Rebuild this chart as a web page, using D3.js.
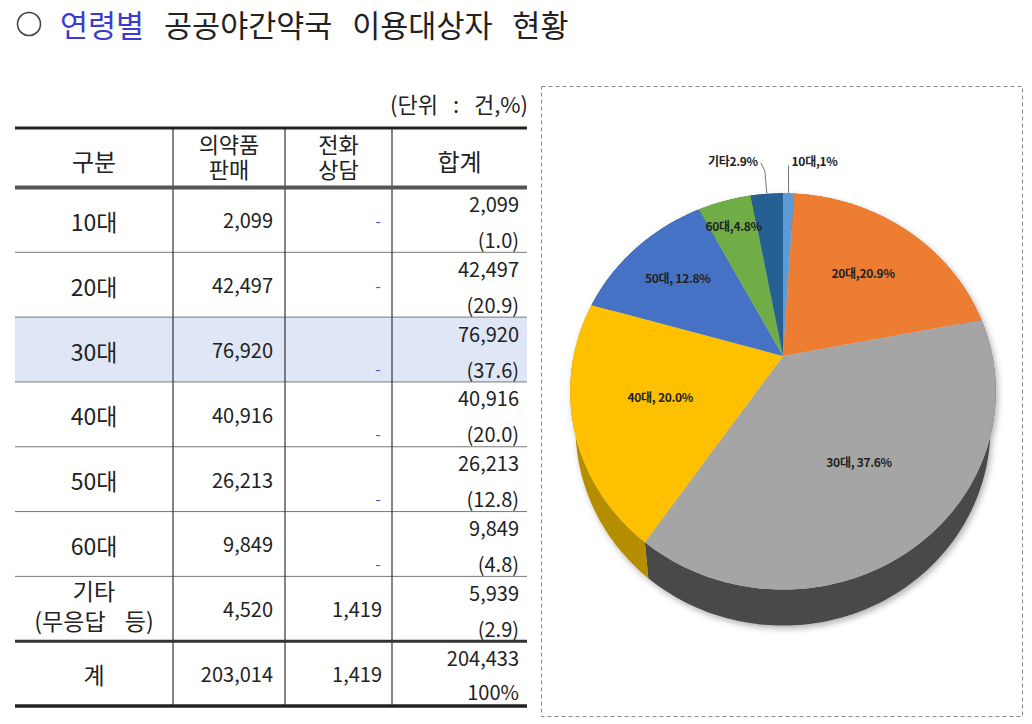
<!DOCTYPE html>
<html>
<head>
<meta charset="utf-8">
<script src="https://cdn.jsdelivr.net/npm/d3@7/dist/d3.min.js"></script>
<style>
  body { margin: 0; background: #fff; }
  svg text { font-family: "Noto Sans CJK KR", "Noto Sans", sans-serif; fill: #222; }
</style>
</head>
<body>
<div id="vis"></div>
<script>
// data
const groups = ['10대', '20대', '30대', '40대', '50대', '60대', '기타'];
const medicineSales = [2099, 42497, 76920, 40916, 26213, 9849, 4520];
const phoneConsult = [null, null, null, null, null, null, 1419];
const totals = [2099, 42497, 76920, 40916, 26213, 9849, 5939];
const shares = [1.0, 20.9, 37.6, 20.0, 12.8, 4.8, 2.9];
const totalRow = { label: '계', sales: 203014, phone: 1419, total: 204433, share: '100%' };
const pieLabels = ['10대,1%', '20대,20.9%', '30대, 37.6%', '40대, 20.0%', '50대, 12.8%', '60대,4.8%', '기타2.9%'];
const headers = [['구분'], ['의약품', '판매'], ['전화', '상담'], ['합계']];

const topColors = ['#5b9bd5', '#ed7d31', '#a5a5a5', '#ffc000', '#4472c4', '#70ad47', '#255e91'];
const sideColors = ['#3f78ad', '#b55a1c', '#4a4a4a', '#b58e00', '#2f5597', '#4e7f30', '#173f63'];

const width = 1032;
const height = 724;
const fmt = d3.format(',');

const svg = d3.select('#vis').append('svg')
  .attr('width', width)
  .attr('height', height);

// ---- title
svg.append('circle')
  .attr('cx', 29).attr('cy', 24).attr('r', 11.5)
  .attr('fill', 'none').attr('stroke', '#444').attr('stroke-width', 1.6);

const title = svg.append('text')
  .attr('x', 60).attr('y', 24)
  .attr('dominant-baseline', 'central')
  .style('font-size', '30.5px')
  .style('word-spacing', '13px');
title.append('tspan').text('연령별 ').style('fill', '#3b3bd1');
title.append('tspan').text('공공야간약국 이용대상자 현황').style('fill', '#222');

// ---- table
const colEdges = [15, 173, 285, 392, 527];
const headerTop = 128;
const headerBottom = 187.5;

const rowScale = d3.scaleBand()
  .domain([...groups, totalRow.label])
  .range([headerBottom, 706]);
const rh = rowScale.bandwidth();

const table = svg.append('g');

table.append('text')
  .attr('x', 528).attr('y', 103)
  .attr('text-anchor', 'end')
  .attr('dominant-baseline', 'central')
  .style('font-size', '22px')
  .style('word-spacing', '10px')
  .text('(단위 : 건,%)');

// highlighted 30대 row
table.append('rect')
  .attr('x', colEdges[0]).attr('y', rowScale('30대'))
  .attr('width', colEdges[4] - colEdges[0]).attr('height', rh)
  .attr('fill', '#dfe6f5');

// header
headers.forEach((lines, i) => {
  const cx = (colEdges[i] + colEdges[i + 1]) / 2;
  if (lines.length === 1) {
    table.append('text')
      .attr('x', cx).attr('y', 160)
      .attr('text-anchor', 'middle').attr('dominant-baseline', 'central')
      .style('font-size', '24px')
      .text(lines[0]);
  } else {
    const t = table.append('text')
      .attr('text-anchor', 'middle')
      .style('font-size', '22px');
    lines.forEach((s, j) => {
      t.append('tspan')
        .attr('x', cx).attr('y', 153 + j * 25)
        .text(s);
    });
  }
});

// body rows
groups.forEach((g, i) => {
  const y0 = rowScale(g);
  const yc = y0 + rh / 2;
  if (g === '기타') {
    const t = table.append('text')
      .attr('text-anchor', 'middle')
      .style('font-size', '23px');
    t.append('tspan')
      .attr('x', (colEdges[0] + colEdges[1]) / 2).attr('y', y0 + 24)
      .text('기타');
    t.append('tspan')
      .attr('x', (colEdges[0] + colEdges[1]) / 2).attr('y', y0 + 54)
      .style('word-spacing', '14px')
      .text('(무응답 등)');
  } else {
    table.append('text')
      .attr('x', (colEdges[0] + colEdges[1]) / 2).attr('y', yc + 1)
      .attr('text-anchor', 'middle').attr('dominant-baseline', 'central')
      .style('font-size', '23px').text(g);
  }

  table.append('text')
    .attr('x', colEdges[2] - 12).attr('y', yc)
    .attr('text-anchor', 'end').attr('dominant-baseline', 'central')
    .style('font-size', '20px').text(fmt(medicineSales[i]));

  if (phoneConsult[i] == null) {
    table.append('text')
      .attr('x', colEdges[3] - 14).attr('y', i < 2 ? yc : y0 + 51)
      .attr('text-anchor', 'middle').attr('dominant-baseline', 'central')
      .style('font-size', '16px').style('fill', '#5252d8').text('-');
  } else {
    table.append('text')
      .attr('x', colEdges[3] - 10).attr('y', yc)
      .attr('text-anchor', 'end').attr('dominant-baseline', 'central')
      .style('font-size', '20px').text(fmt(phoneConsult[i]));
  }

  table.append('text')
    .attr('x', colEdges[4] - 8).attr('y', y0 + 16)
    .attr('text-anchor', 'end').attr('dominant-baseline', 'central')
    .style('font-size', '20px').text(fmt(totals[i]));
  table.append('text')
    .attr('x', colEdges[4] - 8).attr('y', y0 + 52)
    .attr('text-anchor', 'end').attr('dominant-baseline', 'central')
    .style('font-size', '20px').text('(' + shares[i].toFixed(1) + ')');
});

// total row
{
  const y0 = rowScale(totalRow.label);
  const yc = y0 + rh / 2;
  table.append('text')
    .attr('x', (colEdges[0] + colEdges[1]) / 2).attr('y', yc)
    .attr('text-anchor', 'middle').attr('dominant-baseline', 'central')
    .style('font-size', '23px').text(totalRow.label);
  table.append('text')
    .attr('x', colEdges[2] - 12).attr('y', yc)
    .attr('text-anchor', 'end').attr('dominant-baseline', 'central')
    .style('font-size', '20px').text(fmt(totalRow.sales));
  table.append('text')
    .attr('x', colEdges[3] - 10).attr('y', yc)
    .attr('text-anchor', 'end').attr('dominant-baseline', 'central')
    .style('font-size', '20px').text(fmt(totalRow.phone));
  table.append('text')
    .attr('x', colEdges[4] - 8).attr('y', y0 + 16)
    .attr('text-anchor', 'end').attr('dominant-baseline', 'central')
    .style('font-size', '20px').text(fmt(totalRow.total));
  table.append('text')
    .attr('x', colEdges[4] - 8).attr('y', y0 + 50)
    .attr('text-anchor', 'end').attr('dominant-baseline', 'central')
    .style('font-size', '20px').text(totalRow.share);
}

// rules
groups.slice(1).forEach(g => {
  table.append('line')
    .attr('x1', colEdges[0]).attr('x2', colEdges[4])
    .attr('y1', rowScale(g)).attr('y2', rowScale(g))
    .attr('stroke', '#777').attr('stroke-width', 1);
});
colEdges.slice(1, 4).forEach(x => {
  table.append('line')
    .attr('x1', x).attr('x2', x)
    .attr('y1', headerTop).attr('y2', 706)
    .attr('stroke', '#333').attr('stroke-width', 1.2);
});
[[headerTop, 3, '#222'], [headerBottom, 4, '#555'], [rowScale(totalRow.label), 3, '#333'], [706, 3.5, '#222']]
  .forEach(([y, w, c]) => {
    table.append('line')
      .attr('x1', colEdges[0]).attr('x2', colEdges[4])
      .attr('y1', y).attr('y2', y)
      .attr('stroke', c).attr('stroke-width', w);
  });

// ---- 3D pie
svg.append('rect')
  .attr('x', 541.5).attr('y', 86.5)
  .attr('width', 481).attr('height', 630)
  .attr('fill', 'none').attr('stroke', '#8a8a8a')
  .attr('stroke-dasharray', '4,3');

const defs = svg.append('defs');
defs.append('filter').attr('id', 'shadow')
  .attr('x', '-10%').attr('y', '-10%').attr('width', '130%').attr('height', '130%')
  .append('feDropShadow')
  .attr('dx', 2).attr('dy', 3).attr('stdDeviation', 3)
  .attr('flood-color', '#000').attr('flood-opacity', 0.3);

const cx = 783, cy = 356;          // apex of the slices
const focal = 469, dist = 2.24;     // perspective
const tiltC = 0.401, tiltS = 0.916;
const depth = 36, shrink = 0.975;

function project(a, r) {
  const u = r * Math.sin(a);
  const w = r * Math.cos(a);
  const den = dist + tiltC * w;
  return [cx + focal * u / den, cy - focal * tiltS * w / den];
}
function lower(p) {
  return [cx + (p[0] - cx) * shrink, p[1] + depth];
}
function arcPoints(a0, a1) {
  const n = Math.max(2, Math.ceil((a1 - a0) / (Math.PI / 180)));
  return d3.range(n + 1).map(k => project(a0 + (a1 - a0) * k / n, 1));
}

const arcs = d3.pie().sort(null).value(d => d)(shares);
const line = d3.line();
const pieG = svg.append('g').attr('filter', 'url(#shadow)');

pieG.selectAll('path.side')
  .data(arcs)
  .join('path')
  .attr('class', 'side')
  .attr('fill', (d, i) => sideColors[i])
  .attr('d', d => {
    const top = arcPoints(d.startAngle, d.endAngle);
    const bottom = top.map(lower).reverse();
    return line(top.concat(bottom)) + 'Z';
  });

pieG.selectAll('path.top')
  .data(arcs)
  .join('path')
  .attr('class', 'top')
  .attr('fill', (d, i) => topColors[i])
  .attr('d', d => line([[cx, cy]].concat(arcPoints(d.startAngle, d.endAngle))) + 'Z');

// slice labels
const labelRadius = [1, 0.63, 0.6, 0.6, 0.7, 0.82, 1];
const labelG = svg.append('g')
  .style('font-size', '12px').style('font-weight', 700);

arcs.forEach((d, i) => {
  const mid = (d.startAngle + d.endAngle) / 2;
  if (labelRadius[i] < 1) {
    const p = project(mid, labelRadius[i]);
    labelG.append('text')
      .attr('x', p[0]).attr('y', p[1])
      .attr('text-anchor', 'middle').attr('dominant-baseline', 'central')
      .style('letter-spacing', '-0.3px')
      .text(pieLabels[i]);
  } else {
    const p = project(mid, 1);
    const right = mid < Math.PI;
    const pts = right
      ? [p, [p[0], p[1] - 28]]
      : [p, [p[0] - 2, p[1] - 23], [p[0] - 6, p[1] - 31]];
    labelG.append('path')
      .attr('d', line(pts))
      .attr('fill', 'none').attr('stroke', '#777').attr('stroke-width', 1);
    labelG.append('text')
      .attr('x', right ? p[0] + 3 : p[0] - 9)
      .attr('y', p[1] - 33)
      .attr('text-anchor', right ? 'start' : 'end')
      .attr('dominant-baseline', 'central')
      .style('letter-spacing', '-0.3px')
      .text(pieLabels[i]);
  }
});
</script>
</body>
</html>
